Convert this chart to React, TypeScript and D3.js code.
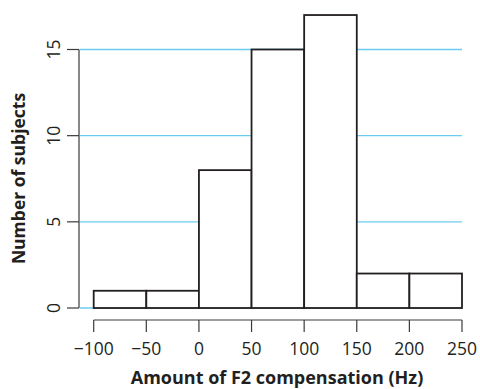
import React from "react";
import * as d3 from "d3";

const binEdges = [-100, -50, 0, 50, 100, 150, 200, 250];
const counts = [1, 1, 8, 15, 17, 2, 2];
const xTicks = [-100, -50, 0, 50, 100, 150, 200, 250];
const yTicks = [0, 5, 10, 15];
const gridValues = [0, 5, 10, 15];
const xTitle = "Amount of F2 compensation (Hz)";
const yTitle = "Number of subjects";

const W = 480;
const H = 389;
const font = "'Open Sans', 'Noto Sans', sans-serif";

export default function App() {
  const x = d3.scaleLinear().domain([-100, 250]).range([93.7, 462]);
  const y = d3.scaleLinear().domain([0, 15]).range([308, 49.5]);
  const axisX = 79;
  const axisY = 320;
  const fmt = (v: number) => (v < 0 ? "\u2212" + Math.abs(v) : String(v));
  const bins = counts.map((c, i) => ({ x0: binEdges[i], x1: binEdges[i + 1], c }));

  return (
    <svg width={W} height={H} style={{ position: "absolute", left: 0, top: 0, background: "#fff" }}>
      {gridValues.map((g) => (
        <line key={"g" + g} x1={axisX + 1} x2={462} y1={y(g)} y2={y(g)} stroke="#6ccbef" strokeWidth={1.4} />
      ))}
      {bins.map((b, i) => (
        <rect
          key={i}
          x={x(b.x0)}
          y={y(b.c)}
          width={x(b.x1) - x(b.x0)}
          height={y(0) - y(b.c)}
          fill="#fff"
          stroke="#231f20"
          strokeWidth={1.8}
        />
      ))}
      <line x1={axisX} x2={axisX} y1={y(15)} y2={y(0)} stroke="#3a3a3a" strokeWidth={1.2} />
      {yTicks.map((t) => (
        <g key={"y" + t}>
          <line x1={axisX - 12} x2={axisX} y1={y(t)} y2={y(t)} stroke="#3a3a3a" strokeWidth={1.2} />
          <text
            transform={`translate(${60},${y(t)}) rotate(-90)`}
            textAnchor="middle"
            fontFamily={font}
            fontSize={17.5}
            fill="#231f20"
          >
            {t}
          </text>
        </g>
      ))}
      <line x1={x(-100)} x2={x(250)} y1={axisY} y2={axisY} stroke="#3a3a3a" strokeWidth={1.2} />
      {xTicks.map((t) => (
        <g key={"x" + t}>
          <line x1={x(t)} x2={x(t)} y1={axisY} y2={axisY + 12} stroke="#3a3a3a" strokeWidth={1.2} />
          <text x={x(t)} y={355} textAnchor="middle" fontFamily={font} fontSize={17.5} fill="#231f20">
            {fmt(t)}
          </text>
        </g>
      ))}
      <text x={277} y={383.5} textAnchor="middle" fontFamily={font} fontSize={18} fontWeight="bold" fill="#231f20">
        {xTitle}
      </text>
      <text
        transform={`translate(${25},${178.5}) rotate(-90)`}
        textAnchor="middle"
        fontFamily={font}
        fontSize={17.5}
        fontWeight="bold"
        fill="#231f20"
      >
        {yTitle}
      </text>
    </svg>
  );
}
